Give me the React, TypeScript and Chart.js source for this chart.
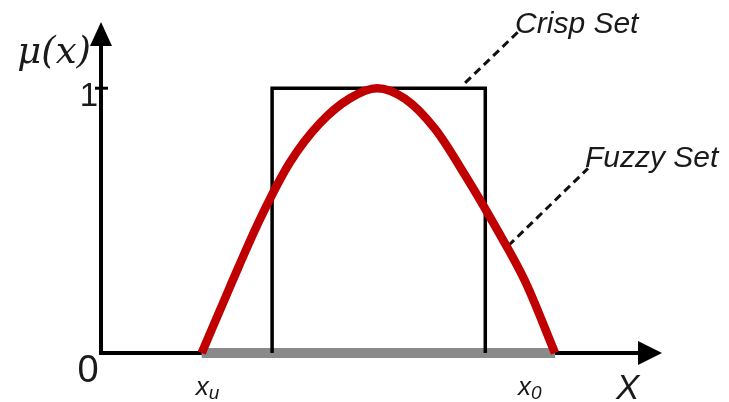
import React, { useEffect, useRef } from "react";
import { Chart, registerables } from "chart.js";

Chart.register(...registerables);

// Fuzzy membership curve (red)
const fuzzyX = [1.795, 2.299, 2.834, 3.369, 3.904, 4.439, 4.92, 5.419, 5.954, 6.488, 7.023, 7.558, 8.093];
const fuzzyMu = [0, 0.25, 0.505, 0.72, 0.868, 0.962, 1.0, 0.96, 0.846, 0.672, 0.48, 0.272, 0];

// Crisp set (black rectangle)
const crispX = [3.05, 3.05, 6.85, 6.85];
const crispMu = [0, 1, 1, 0];

// Support of the fuzzy set (gray bar on the axis)
const supportX = [1.795, 8.093];
const supportMu = [0, 0];

// Leader lines to the labels
const crispLeaderX = [6.49, 7.47];
const crispLeaderMu = [1.02, 1.22];
const fuzzyLeaderX = [7.26, 8.68];
const fuzzyLeaderMu = [0.405, 0.697];

// Axis marks
const yTickValues = [0, 1];
const yTickLabels = ["0", "1"];
const xMarkValues = [1.795, 8.093];
const xMarkSubs = ["u", "0"];
const seriesLabels = ["Crisp Set", "Fuzzy Set"];

const toPts = (xs: number[], ys: number[]) => xs.map((x, i) => ({ x, y: ys[i] }));

const decorPlugin = {
  id: "decor",
  beforeDatasetsDraw(chart: any) {
    const { ctx, chartArea, scales } = chart;
    const xs = scales.x;
    const ys = scales.y;
    const ox = xs.getPixelForValue(0);
    const oy = ys.getPixelForValue(0);
    ctx.save();
    ctx.strokeStyle = "#000";
    ctx.fillStyle = "#000";
    ctx.lineWidth = 4;
    ctx.lineCap = "butt";
    // y axis
    ctx.beginPath();
    ctx.moveTo(ox, oy + 2);
    ctx.lineTo(ox, chartArea.top + 22);
    ctx.stroke();
    ctx.beginPath();
    ctx.moveTo(ox, chartArea.top);
    ctx.lineTo(ox - 11, chartArea.top + 24);
    ctx.lineTo(ox + 11, chartArea.top + 24);
    ctx.closePath();
    ctx.fill();
    // x axis
    ctx.beginPath();
    ctx.moveTo(ox - 2, oy);
    ctx.lineTo(chartArea.right - 22, oy);
    ctx.stroke();
    ctx.beginPath();
    ctx.moveTo(chartArea.right, oy);
    ctx.lineTo(chartArea.right - 24, oy - 12);
    ctx.lineTo(chartArea.right - 24, oy + 12);
    ctx.closePath();
    ctx.fill();
    // tick at 1
    const y1 = ys.getPixelForValue(yTickValues[1]);
    ctx.lineWidth = 3;
    ctx.beginPath();
    ctx.moveTo(ox - 6, y1);
    ctx.lineTo(ox + 7, y1);
    ctx.stroke();
    ctx.restore();
  },
  afterDraw(chart: any) {
    const { ctx, chartArea, scales } = chart;
    const xs = scales.x;
    const ys = scales.y;
    const ox = xs.getPixelForValue(0);
    const oy = ys.getPixelForValue(0);
    ctx.save();
    ctx.fillStyle = "#1a1a1a";
    ctx.textBaseline = "alphabetic";
    // y tick labels
    ctx.font = "38px 'Liberation Sans', Arial, sans-serif";
    ctx.textAlign = "center";
    ctx.fillText(yTickLabels[0], ox - 13, oy + 29);
    ctx.font = "33px 'Liberation Sans', Arial, sans-serif";
    ctx.textAlign = "right";
    ctx.fillText(yTickLabels[1], ox - 3, ys.getPixelForValue(yTickValues[1]) + 18);
    // y axis title
    ctx.font = "italic 37px 'DejaVu Serif', serif";
    ctx.textAlign = "right";
    ctx.fillText("μ(x)", ox - 10, chartArea.top + 41);
    // x axis title
    ctx.font = "italic 35px 'Liberation Sans', Arial, sans-serif";
    ctx.textAlign = "left";
    ctx.fillText("X", chartArea.right - 46, chartArea.bottom + 46);
    // x marks x_u and x_0
    const offs = [-6, -37];
    xMarkValues.forEach((v, i) => {
      const px = xs.getPixelForValue(v) + offs[i];
      ctx.font = "italic 26px 'Liberation Sans', Arial, sans-serif";
      ctx.textAlign = "left";
      ctx.fillText("x", px, oy + 42);
      const w = ctx.measureText("x").width;
      ctx.font = "italic 19px 'Liberation Sans', Arial, sans-serif";
      ctx.fillText(xMarkSubs[i], px + w, oy + 46);
    });
    // series labels
    ctx.font = "italic 30px 'Liberation Sans', Arial, sans-serif";
    ctx.textAlign = "left";
    ctx.fillText(seriesLabels[0], xs.getPixelForValue(crispLeaderX[1]) - 5, ys.getPixelForValue(crispLeaderMu[1]) + 3);
    ctx.fillText(seriesLabels[1], xs.getPixelForValue(fuzzyLeaderX[1]) - 3, ys.getPixelForValue(fuzzyLeaderMu[1]) - 1);
    ctx.restore();
  },
};

export default function App() {
  const ref = useRef<HTMLCanvasElement | null>(null);
  useEffect(() => {
    if (!ref.current) return;
    const chart = new Chart(ref.current, {
      type: "line",
      data: {
        datasets: [
          {
            label: "Fuzzy Set",
            data: toPts(fuzzyX, fuzzyMu),
            borderColor: "#c00000",
            borderWidth: 8.5,
            pointRadius: 0,
            cubicInterpolationMode: "monotone",
            fill: false,
            clip: false as any,
            borderCapStyle: "butt",
            order: 0,
          },
          {
            label: "Crisp Set",
            data: toPts(crispX, crispMu),
            borderColor: "#000",
            borderWidth: 3.5,
            pointRadius: 0,
            tension: 0,
            fill: false,
            clip: false as any,
            borderJoinStyle: "miter",
            order: 1,
          },
          {
            label: "Crisp leader",
            data: toPts(crispLeaderX, crispLeaderMu),
            borderColor: "#111",
            borderWidth: 3,
            borderDash: [8, 5],
            pointRadius: 0,
            tension: 0,
            fill: false,
            clip: false as any,
            order: 2,
          },
          {
            label: "Fuzzy leader",
            data: toPts(fuzzyLeaderX, fuzzyLeaderMu),
            borderColor: "#111",
            borderWidth: 3,
            borderDash: [8, 5],
            pointRadius: 0,
            tension: 0,
            fill: false,
            clip: false as any,
            order: 2,
          },
          {
            label: "Support",
            data: toPts(supportX, supportMu),
            borderColor: "#8a8a8a",
            borderWidth: 10,
            pointRadius: 0,
            tension: 0,
            fill: false,
            clip: false as any,
            borderCapStyle: "butt",
            order: 3,
          },
        ],
      },
      options: {
        animation: false,
        responsive: true,
        maintainAspectRatio: false,
        events: [],
        layout: { padding: { left: 101, right: 67, top: 22, bottom: 49 } },
        scales: {
          x: { type: "linear", min: 0, max: 10, display: false },
          y: { type: "linear", min: 0, max: 1.25, display: false },
        },
        plugins: {
          legend: { display: false },
          tooltip: { enabled: false },
        },
      },
      plugins: [decorPlugin],
    });
    return () => chart.destroy();
  }, []);
  return (
    <div style={{ position: "fixed", left: 0, top: 0, width: 729, height: 402, background: "#fff" }}>
      <canvas ref={ref} style={{ display: "block" }} />
    </div>
  );
}
